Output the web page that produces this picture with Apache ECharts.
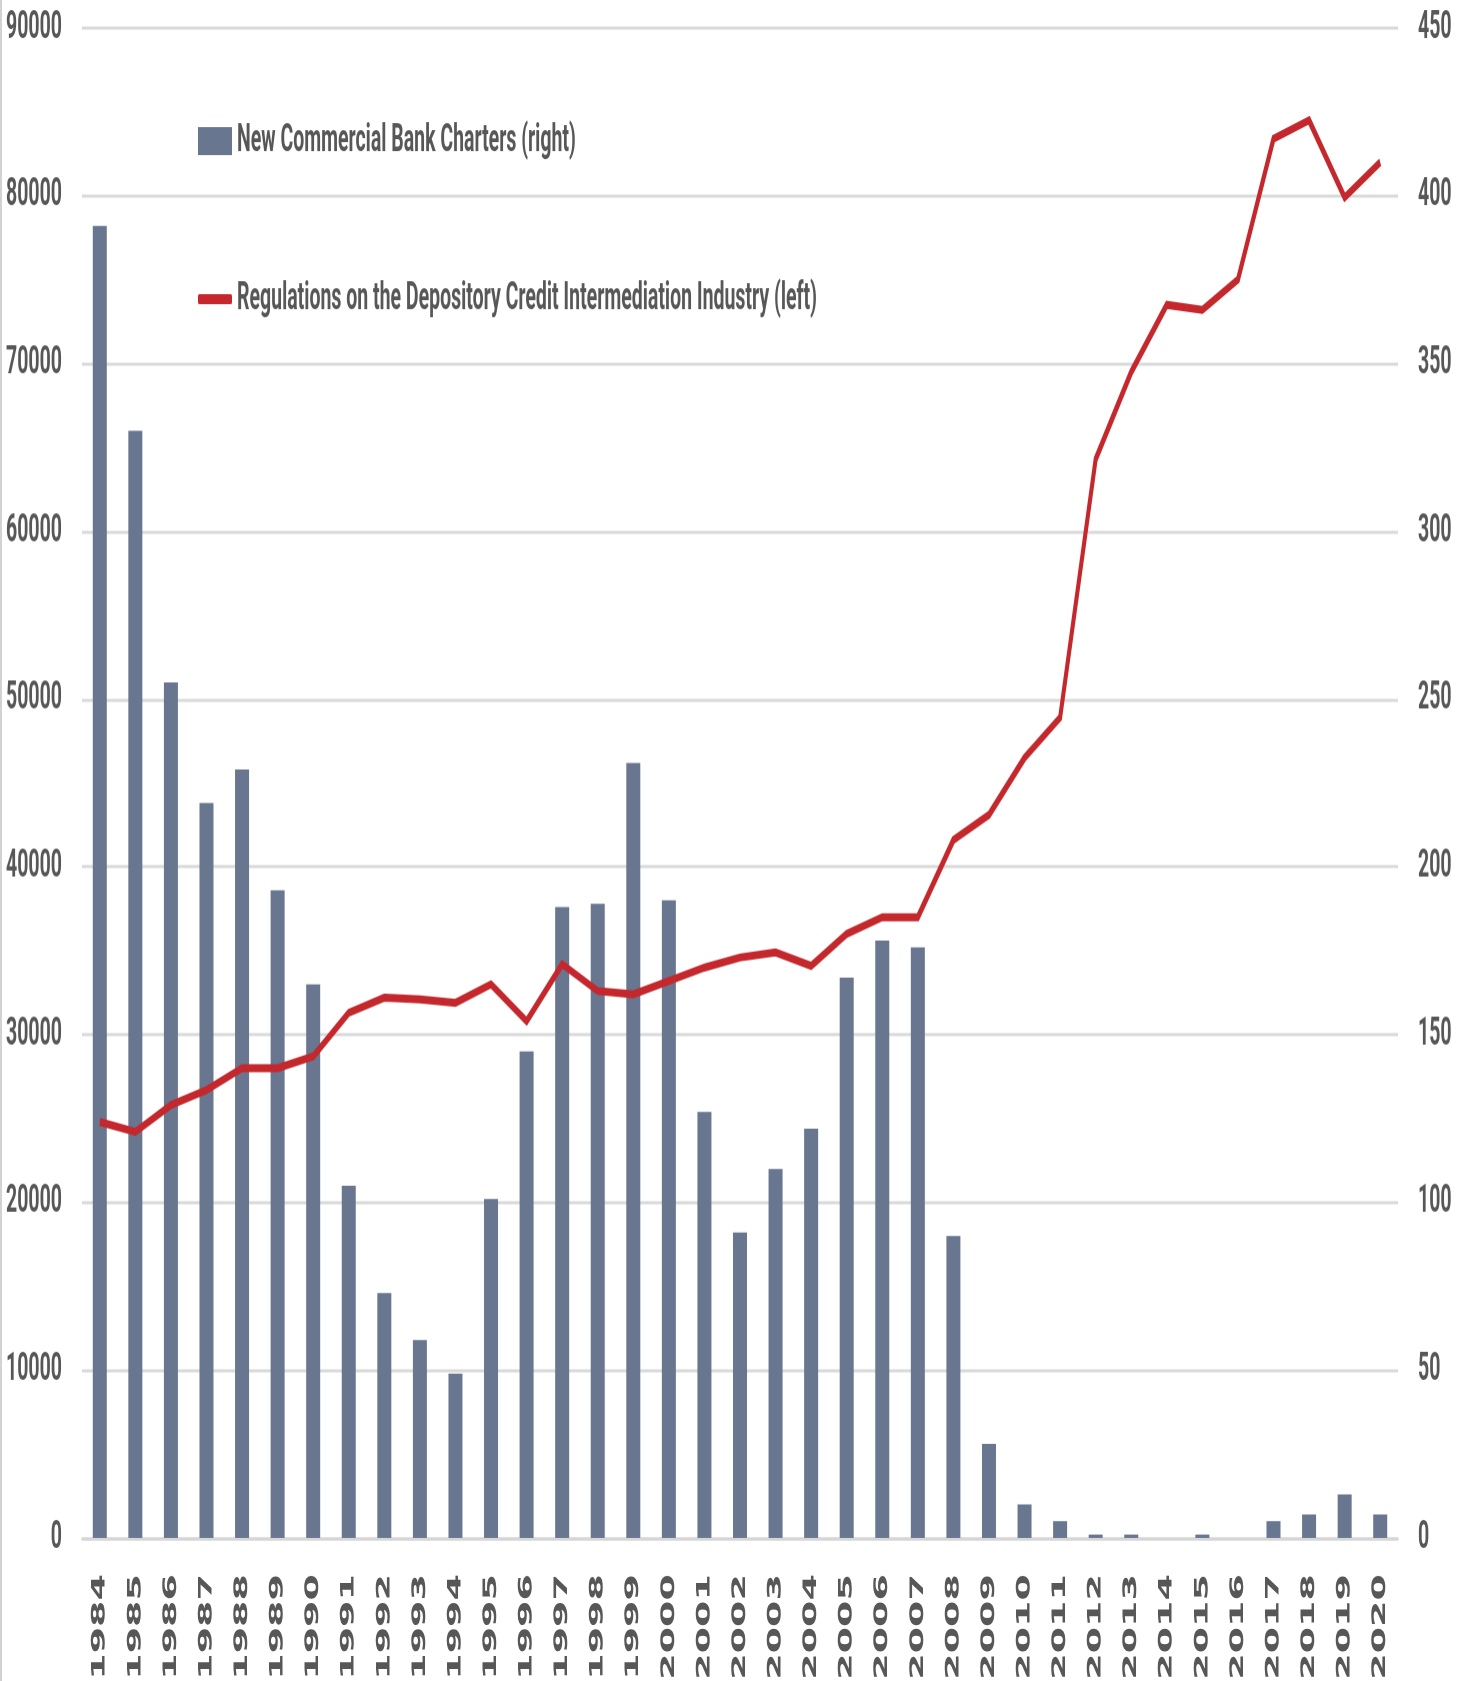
<!DOCTYPE html>
<html>
<head>
<meta charset="utf-8">
<script src="https://cdn.jsdelivr.net/npm/echarts@6/dist/echarts.min.js"></script>
<style>
  html, body { margin: 0; padding: 0; background: #ffffff; }
  body { width: 1473px; height: 1681px; }
  #chart {
    width: 1473px;
    height: 840.5px;
    transform: scaleY(2);
    transform-origin: 0 0;
  }
</style>
</head>
<body>
<div id="chart"></div>
<script>
// Years on the category axis
const years = [
  '1984','1985','1986','1987','1988','1989','1990','1991','1992','1993',
  '1994','1995','1996','1997','1998','1999','2000','2001','2002','2003',
  '2004','2005','2006','2007','2008','2009','2010','2011','2012','2013',
  '2014','2015','2016','2017','2018','2019','2020'
];

// New commercial bank charters per year (right axis)
const charters = [
  391, 330, 255, 219, 229, 193, 165, 105, 73, 59,
  49, 101, 145, 188, 189, 231, 190, 127, 91, 110,
  122, 167, 178, 176, 90, 28, 10, 5, 1, 1,
  0, 1, 0, 5, 7, 13, 7
];

// Regulatory restrictions on depository credit intermediation (left axis)
const regulations = [
  24800, 24200, 25800, 26700, 28000, 28000, 28700, 31300, 32200, 32100,
  31900, 33000, 30800, 34200, 32600, 32400, 33200, 34000, 34600, 34900,
  34100, 36000, 37000, 37000, 41600, 43100, 46500, 48900, 64300, 69500,
  73500, 73200, 75000, 83400, 84500, 79900, 82000
];

const leftTicks = { min: 0, max: 90000, interval: 10000 };
const rightTicks = { min: 0, max: 450, interval: 50 };

const barName = 'New Commercial Bank Charters (right)';
const lineName = 'Regulations on the Depository Credit Intermediation Industry (left)';

const labelFont = "Roboto, 'Liberation Sans', sans-serif";
const textGrey = '#575757';

const chart = echarts.init(document.getElementById('chart'), null, {
  width: 1473, height: 840.5, devicePixelRatio: 2
});

const legendText = { fontFamily: labelFont, fontWeight: 'bold', fontSize: 19.5, color: textGrey, lineHeight: 22 };

chart.setOption({
  animation: false,
  backgroundColor: '#ffffff',
  graphic: [{
    type: 'line',
    shape: { x1: 1, y1: 0, x2: 1, y2: 841 },
    style: { stroke: '#c4c4c4', lineWidth: 1.5 }
  }],
  legend: [{
    data: [{ name: barName, icon: 'rect' }],
    left: 193, top: 54.5, orient: 'vertical',
    itemWidth: 34, itemHeight: 14,
    textStyle: legendText
  }, {
    data: [{ name: lineName, icon: 'roundRect' }],
    left: 193, top: 133.5, orient: 'vertical',
    itemWidth: 34, itemHeight: 5,
    textStyle: legendText
  }],
  grid: { left: 82, top: 14, width: 1316, height: 754.5, outerBoundsMode: 'none', containLabel: false },
  xAxis: {
    type: 'category',
    data: years,
    axisLine: { show: true, lineStyle: { color: '#d6d6d6', width: 1.5 } },
    axisTick: { show: false },
    axisLabel: {
      interval: 0, rotate: 90, margin: 18,
      fontFamily: 'DejaVu Sans', fontWeight: 'bold', fontSize: 19, color: textGrey
    }
  },
  yAxis: [{
    type: 'value',
    min: leftTicks.min, max: leftTicks.max, interval: leftTicks.interval,
    axisLine: { show: false }, axisTick: { show: false },
    splitLine: { show: true, lineStyle: { color: '#d9d9d9', width: 1.5 } },
    axisLabel: {
      margin: 20, fontFamily: labelFont, fontWeight: 'bold', fontSize: 19.5, color: textGrey,
      formatter: v => String(v)
    }
  }, {
    type: 'value', position: 'right',
    min: rightTicks.min, max: rightTicks.max, interval: rightTicks.interval,
    axisLine: { show: false }, axisTick: { show: false },
    splitLine: { show: false },
    axisLabel: {
      margin: 20, fontFamily: labelFont, fontWeight: 'bold', fontSize: 19.5, color: textGrey,
      formatter: v => String(v)
    }
  }],
  series: [{
    name: barName,
    type: 'bar',
    yAxisIndex: 1,
    data: charters,
    barWidth: 14,
    itemStyle: { color: '#687690' },
    z: 2
  }, {
    name: lineName,
    type: 'line',
    yAxisIndex: 0,
    data: regulations,
    symbol: 'none',
    lineStyle: { color: '#c4282c', width: 4, join: 'miter' },
    itemStyle: { color: '#c4282c' },
    z: 3
  }]
});
</script>
</body>
</html>
